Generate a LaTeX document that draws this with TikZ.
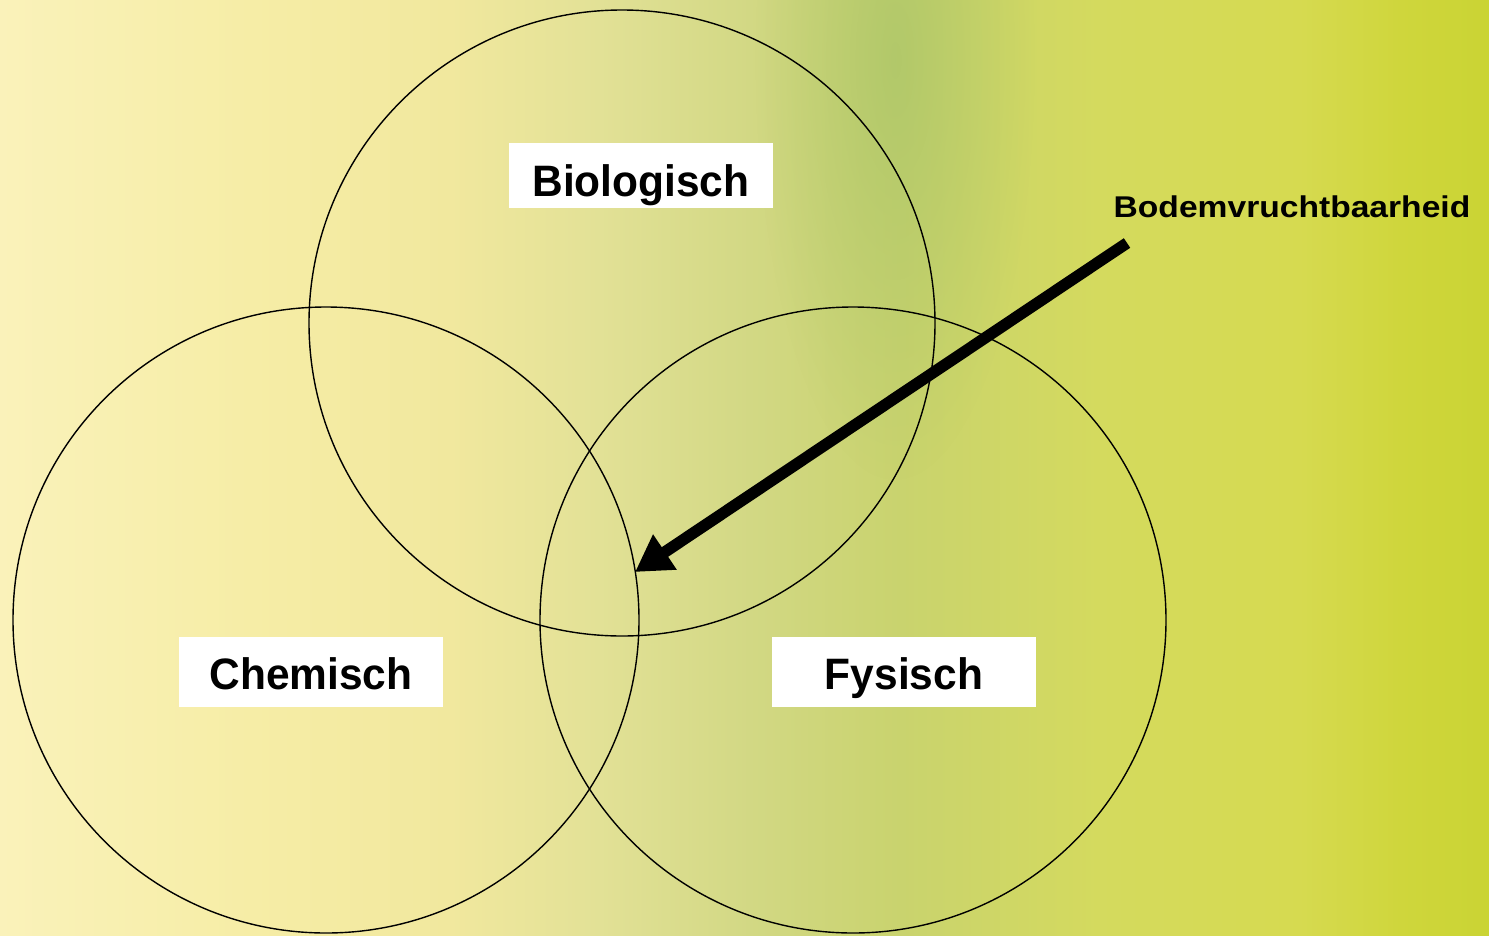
\documentclass[tikz,border=0pt]{standalone}
\usepackage{fontspec}
\usepackage{graphicx}
\setmainfont{Liberation Sans}
\usetikzlibrary{arrows.meta,fadings}
\definecolor{c0}{HTML}{FAF2BA}
\definecolor{c1}{HTML}{F6EDA6}
\definecolor{c2}{HTML}{F1E89E}
\definecolor{c3}{HTML}{E2E196}
\definecolor{c4}{HTML}{D2D884}
\definecolor{c5}{HTML}{C9D36E}
\definecolor{c6}{HTML}{D4DA5E}
\definecolor{c7}{HTML}{D6DA50}
\definecolor{c8}{HTML}{CFD63C}
\definecolor{c9}{HTML}{CAD434}
\definecolor{leafgreen}{HTML}{A8C468}
\tikzfading[name=softblob, inner color=transparent!30, outer color=transparent!100]
\begin{document}
\begin{tikzpicture}[x=1pt,y=-1pt,
  ring/.style={draw=black, line width=1.4pt},
  labelbox/.style={fill=white, minimum width=264pt, minimum height=70pt, inner sep=0pt,
    text depth=0pt, text height=34pt,
    font=\fontsize{44}{48}\selectfont\bfseries},
  arrowlabel/.style={inner sep=0pt, font=\fontsize{30}{34}\selectfont\bfseries},
  bigarrow/.style={line width=11.5pt, -{Triangle[length=36pt,width=40pt]}}]
\useasboundingbox (0,0) rectangle (1489,935);
% background gradient
\shade[left color=c0, right color=c1] (0,0) rectangle (250,935);
\shade[left color=c1, right color=c2] (249,0) rectangle (450,935);
\shade[left color=c2, right color=c3] (449,0) rectangle (600,935);
\shade[left color=c3, right color=c4] (599,0) rectangle (750,935);
\shade[left color=c4, right color=c5] (749,0) rectangle (900,935);
\shade[left color=c5, right color=c6] (899,0) rectangle (1100,935);
\shade[left color=c6, right color=c7] (1099,0) rectangle (1300,935);
\shade[left color=c7, right color=c8] (1299,0) rectangle (1400,935);
\shade[left color=c8, right color=c9] (1399,0) rectangle (1489,935);
\fill[leafgreen, path fading=softblob] (895,60) ellipse (140pt and 420pt);
% circles
\draw[ring] (622,323) circle (313pt);
\draw[ring] (326,620) circle (313pt);
\draw[ring] (853,620) circle (313pt);
% labels
\node[labelbox, minimum height=65pt, text height=41pt] (bio) at (641,175.5) {\scalebox{0.965}[1]{Biologisch}};
\node[labelbox] (chem) at (311,672) {\scalebox{0.965}[1]{Chemisch}};
\node[labelbox] (fys) at (904,672) {\scalebox{0.965}[1]{Fysisch}};
\node[arrowlabel] (bvb) at (1292,207) {\scalebox{1.12}[1]{Bodemvruchtbaarheid}};
% arrow
\coordinate (arrstart) at (1127,243);
\coordinate (arrtip) at (635,572);
\draw[bigarrow] (arrstart) -- (arrtip);
\end{tikzpicture}
\end{document}
